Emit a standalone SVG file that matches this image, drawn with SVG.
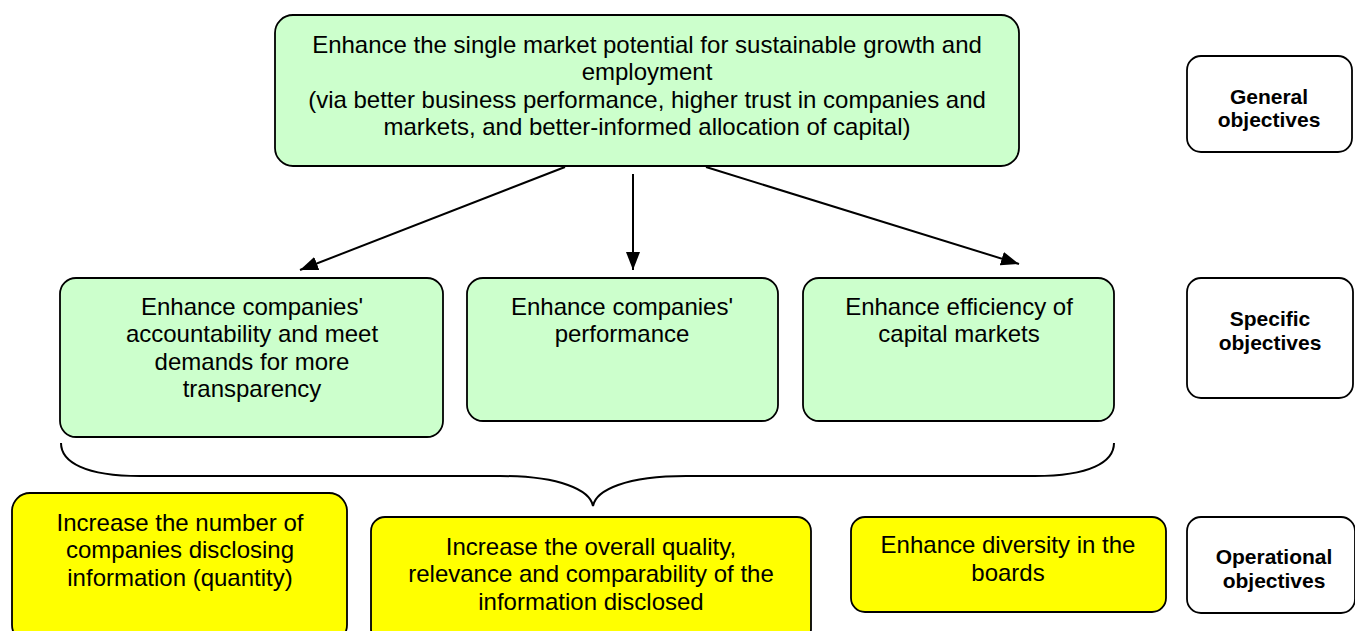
<svg xmlns="http://www.w3.org/2000/svg" width="1355" height="631" viewBox="0 0 1355 631">
<defs>
<style>
.box{stroke:#000;stroke-width:1.8}
.g{fill:#CCFFCC}
.y{fill:#FFFF00}
.w{fill:#FFFFFF}
.t{font-family:"Liberation Sans",Arial,sans-serif;font-size:24px;fill:#000;text-anchor:middle}
.b{font-family:"Liberation Sans",Arial,sans-serif;font-size:21px;font-weight:bold;fill:#000;text-anchor:middle}
.c{stroke:#000;stroke-width:2;fill:none}
</style>
<marker id="arr" viewBox="0 0 18 14" refX="18" refY="7" markerWidth="18" markerHeight="14" markerUnits="userSpaceOnUse" orient="auto">
<path d="M0,0 L18,7 L0,14 z" fill="#000"/>
</marker>
</defs>
<rect width="1355" height="631" fill="#fff"/>

<g id="general">
<rect class="box g" x="275" y="15" width="744" height="151" rx="18"/>
<text class="t" x="647" y="53">Enhance the single market potential for sustainable growth and</text>
<text class="t" x="647" y="80">employment</text>
<text class="t" x="647" y="108">(via better business performance, higher trust in companies and</text>
<text class="t" x="647" y="135">markets, and better-informed allocation of capital)</text>
</g>

<g id="connectors">
<line class="c" x1="565" y1="167" x2="300" y2="270" marker-end="url(#arr)"/>
<line class="c" x1="633" y1="174" x2="633" y2="270" marker-end="url(#arr)"/>
<line class="c" x1="706" y1="167" x2="1019" y2="264" marker-end="url(#arr)"/>
<path class="c" d="M61 443 C61 462 85 476 140 476 L500 476 C560 476 590 490 593 506 C596 490 626 476 686 476 L1035 476 C1090 476 1114 462 1114 443"/>
</g>

<g id="specific1">
<rect class="box g" x="60" y="278" width="383" height="159" rx="16"/>
<text class="t" x="252" y="315">Enhance companies'</text>
<text class="t" x="252" y="342">accountability and meet</text>
<text class="t" x="252" y="370">demands for more</text>
<text class="t" x="252" y="397">transparency</text>
</g>
<g id="specific2">
<rect class="box g" x="467" y="278" width="311" height="143" rx="16"/>
<text class="t" x="622" y="315">Enhance companies'</text>
<text class="t" x="622" y="342">performance</text>
</g>
<g id="specific3">
<rect class="box g" x="803" y="278" width="311" height="143" rx="16"/>
<text class="t" x="959" y="315">Enhance efficiency of</text>
<text class="t" x="959" y="342">capital markets</text>
</g>

<g id="op1">
<rect class="box y" x="12" y="493" width="335" height="150" rx="18"/>
<text class="t" x="180" y="531">Increase the number of</text>
<text class="t" x="180" y="558">companies disclosing</text>
<text class="t" x="180" y="586">information (quantity)</text>
</g>
<g id="op2">
<rect class="box y" x="371" y="517" width="440" height="126" rx="14"/>
<text class="t" x="591" y="555">Increase the overall quality,</text>
<text class="t" x="591" y="582">relevance and comparability of the</text>
<text class="t" x="591" y="610">information disclosed</text>
</g>
<g id="op3">
<rect class="box y" x="851" y="517" width="315" height="95" rx="14"/>
<text class="t" x="1008" y="553">Enhance diversity in the</text>
<text class="t" x="1008" y="581">boards</text>
</g>

<g id="label-general">
<rect class="box w" x="1187" y="56" width="165" height="96" rx="14"/>
<text class="b" x="1269" y="104">General</text>
<text class="b" x="1269" y="127">objectives</text>
</g>
<g id="label-specific">
<rect class="box w" x="1187" y="278" width="166" height="120" rx="14"/>
<text class="b" x="1270" y="326">Specific</text>
<text class="b" x="1270" y="350">objectives</text>
</g>
<g id="label-operational">
<rect class="box w" x="1187" y="517" width="168" height="96" rx="14"/>
<text class="b" x="1274" y="564">Operational</text>
<text class="b" x="1274" y="588">objectives</text>
</g>
</svg>
